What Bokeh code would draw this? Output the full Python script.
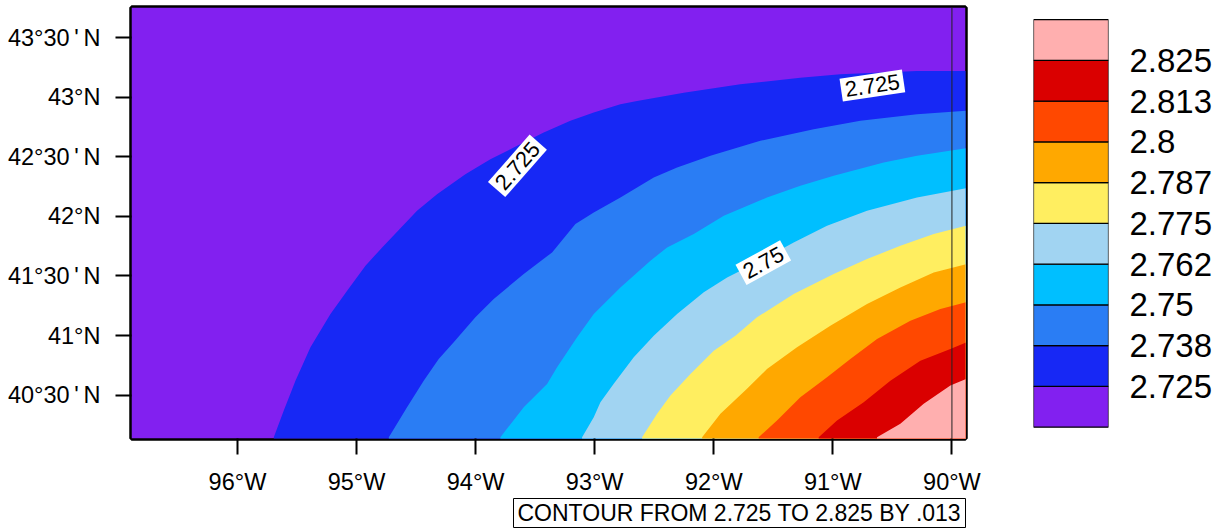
from bokeh.plotting import figure
from bokeh.layouts import row
from bokeh.models import ColumnDataSource, FixedTicker, Range1d
from bokeh.core.properties import value
from bokeh.embed import file_html
from bokeh.resources import INLINE

FONT = "Liberation Sans"

band_colors = ["#8220F0", "#1728F5", "#2A7DF4", "#00BFFF", "#A1D4F2",
               "#FFEE60", "#FFA800", "#FF4800", "#DA0000", "#FFAFAF"]
levels = ["2.725", "2.738", "2.75", "2.762", "2.775", "2.787", "2.8", "2.813", "2.825"]

lon_725 = [-95.695, -95.611, -95.513, -95.387, -95.219, -95.079, -94.925, -94.785, -94.492, -94.324, -94.086, -93.876, -93.680, -93.428, -93.204, -93.008, -92.784, -92.644, -92.252, -91.777, -91.273, -90.937, -90.293, -89.88]
lat_725 = [40.146, 40.370, 40.621, 40.901, 41.181, 41.377, 41.586, 41.740, 42.048, 42.187, 42.355, 42.481, 42.579, 42.705, 42.803, 42.873, 42.942, 42.970, 43.040, 43.110, 43.166, 43.194, 43.222, 43.222]
lon_738 = [-94.729, -94.576, -94.436, -94.310, -94.184, -94.002, -93.848, -93.596, -93.358, -93.162, -93.008, -92.784, -92.504, -92.308, -92.028, -91.609, -91.161, -90.769, -90.293, -89.88]
lat_738 = [40.146, 40.398, 40.621, 40.803, 40.943, 41.153, 41.307, 41.516, 41.698, 41.936, 42.034, 42.159, 42.327, 42.411, 42.509, 42.635, 42.733, 42.803, 42.859, 42.887]
lon_750 = [-93.792, -93.596, -93.400, -93.316, -93.148, -93.008, -92.784, -92.532, -92.392, -92.168, -91.916, -91.553, -91.273, -90.993, -90.573, -90.293, -89.88]
lat_750 = [40.146, 40.398, 40.593, 40.733, 40.985, 41.181, 41.404, 41.628, 41.740, 41.852, 42.006, 42.159, 42.257, 42.341, 42.453, 42.509, 42.573]
lon_762 = [-93.106, -93.008, -92.952, -92.840, -92.672, -92.504, -92.308, -92.084, -91.888, -91.609, -91.329, -91.049, -90.713, -90.293, -89.88]
lat_762 = [40.146, 40.314, 40.440, 40.594, 40.817, 40.999, 41.181, 41.363, 41.488, 41.628, 41.782, 41.922, 42.048, 42.159, 42.238]
lon_775 = [-92.602, -92.476, -92.364, -92.196, -92.000, -91.818, -91.637, -91.329, -90.993, -90.713, -90.433, -90.153, -89.88]
lat_775 = [40.146, 40.342, 40.496, 40.677, 40.873, 40.999, 41.153, 41.348, 41.516, 41.642, 41.754, 41.852, 41.922]
lon_787 = [-92.098, -91.944, -91.721, -91.553, -91.301, -91.021, -90.713, -90.433, -90.153, -89.88]
lat_787 = [40.146, 40.342, 40.552, 40.719, 40.901, 41.083, 41.265, 41.404, 41.530, 41.600]
lon_800 = [-91.623, -91.469, -91.273, -91.049, -90.853, -90.629, -90.349, -90.097, -89.88]
lat_800 = [40.146, 40.286, 40.482, 40.649, 40.803, 40.971, 41.125, 41.223, 41.279]
lon_813 = [-91.119, -90.965, -90.741, -90.517, -90.265, -90.013, -89.88]
lat_813 = [40.146, 40.286, 40.440, 40.621, 40.789, 40.887, 40.943]
lon_825 = [-90.629, -90.433, -90.237, -90.013, -89.88]
lat_825 = [40.146, 40.258, 40.426, 40.580, 40.636]

contour_lons = [lon_725, lon_738, lon_750, lon_762, lon_775, lon_787, lon_800, lon_813, lon_825]
contour_lats = [lat_725, lat_738, lat_750, lat_762, lat_775, lat_787, lat_800, lat_813, lat_825]

x_ticks = [-96, -95, -94, -93, -92, -91, -90]
x_tick_labels = ["96°W", "95°W", "94°W", "93°W", "92°W", "91°W", "90°W"]
y_ticks = [40.5, 41, 41.5, 42, 42.5, 43, 43.5]
sp = "\u2009"
y_tick_labels = [f"40°30{sp}'{sp}N", "41°N", f"41°30{sp}'{sp}N", "42°N", f"42°30{sp}'{sp}N", "43°N", f"43°30{sp}'{sp}N"]

clabel_text = ["2.725", "2.725", "2.75"]
clabel_lon = [-93.649, -90.668, -91.584]
clabel_lat = [42.425, 43.100, 41.612]
clabel_angle = [48.6, 8.4, 28.7]

info_text = ["CONTOUR FROM 2.725 TO 2.825 BY .013"]

LON0, LON1 = -96.89, -89.886
LAT0, LAT1 = 40.135, 43.755

p = figure(width=1010, height=529, output_backend="svg", toolbar_location=None,
           x_range=Range1d(LON0, LON1), y_range=Range1d(LAT0, LAT1),
           min_border_left=131, min_border_right=45, min_border_top=7, min_border_bottom=91)
p.grid.visible = False
p.outline_line_color = "black"
p.outline_line_width = 4.5

# Background band and then each region above a contour, stacked from low to high.
p.quad(left=[LON0], right=[LON1], bottom=[LAT0], top=[LAT1], fill_color=band_colors[0], line_color=None)
xs = [lo + [LON1 + 0.1, LON1 + 0.1, lo[0]] for lo in contour_lons]
ys = [la + [la[-1], LAT0 - 0.1, LAT0 - 0.1] for la in contour_lats]
p.patches(xs, ys, fill_color=band_colors[1:], line_color=None)

p.line([-90, -90], [LAT0, LAT1], line_color="#222222", line_width=1)

src = ColumnDataSource(dict(t=clabel_text, x=clabel_lon, y=clabel_lat, a=clabel_angle))
p.text("x", "y", text="t", angle="a", angle_units="deg", source=src,
       text_font=value(FONT), text_font_size="22px", text_color="black",
       text_align="center", text_baseline="middle",
       background_fill_color="white", padding=4)

for ax in (p.xaxis[0], p.yaxis[0]):
    ax.axis_line_color = None
    ax.major_tick_in = 0
    ax.major_tick_out = 16
    ax.major_tick_line_width = 2
    ax.major_tick_line_color = "black"
    ax.minor_tick_line_color = None
    ax.major_label_text_font = FONT
    ax.major_label_text_font_size = "23.5px"
    ax.major_label_text_color = "black"
p.xaxis[0].ticker = FixedTicker(ticks=x_ticks)
p.yaxis[0].ticker = FixedTicker(ticks=y_ticks)
p.xaxis[0].major_label_overrides = dict(zip(x_ticks, x_tick_labels))
p.yaxis[0].major_label_overrides = dict(zip(y_ticks, y_tick_labels))
p.xaxis[0].major_label_standoff = 14
p.yaxis[0].major_label_standoff = 15

# Colour bar: same frame height as the map so the row aligns, the bar fills part of it
bar_pos = list(range(len(band_colors)))
cb = figure(width=220, height=529, output_backend="svg", toolbar_location=None,
            x_range=Range1d(0, 1), y_range=Range1d(-0.277, 10.30),
            y_axis_location="right", x_axis_location=None,
            min_border_left=23, min_border_right=122, min_border_top=7, min_border_bottom=91)
cb.grid.visible = False
cb.outline_line_color = None
cb.quad(left=0, right=1, bottom=bar_pos, top=[v + 1 for v in bar_pos],
        fill_color=band_colors, line_color="black", line_width=1.2)
ay = cb.yaxis[0]
level_pos = [i + 1 for i in range(len(levels))]
ay.ticker = FixedTicker(ticks=level_pos)
ay.major_label_overrides = dict(zip(level_pos, levels))
ay.axis_line_color = None
ay.major_tick_line_color = None
ay.minor_tick_line_color = None
ay.major_tick_in = 0
ay.major_tick_out = 0
ay.major_label_standoff = 21
ay.major_label_text_font = FONT
ay.major_label_text_font_size = "33px"
ay.major_label_text_color = "black"

# Information box under the map
box = figure(width=454, height=31, output_backend="svg", toolbar_location=None,
             x_range=Range1d(0, 1), y_range=Range1d(0, 1),
             x_axis_location=None, y_axis_location=None,
             min_border_left=1, min_border_right=1, min_border_top=1, min_border_bottom=1,
             styles={"position": "absolute", "left": "512px", "top": "497px"})
box.grid.visible = False
box.outline_line_color = "black"
box.outline_line_width = 1
box.text([0.5], [0.5], text=info_text, text_font=value(FONT), text_font_size="23px",
         text_color="black", text_align="center", text_baseline="middle")

layout = row(p, cb, spacing=0, styles={"position": "absolute", "top": "0", "left": "0"})
open("out.html", "w").write(file_html([layout, box], INLINE))
